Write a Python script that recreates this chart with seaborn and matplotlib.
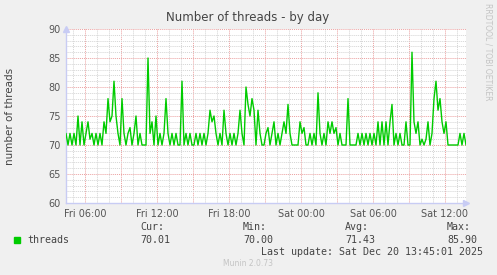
import matplotlib
matplotlib.use("Agg")
import matplotlib.pyplot as plt
import matplotlib.dates as mdates
from matplotlib.ticker import MultipleLocator, FuncFormatter
import numpy as np
import pandas as pd
import seaborn as sns

# ---- data (10-minute samples) ----
start_time = "2025-12-19 04:25"
threads = [
    72, 70, 72, 70, 72, 70, 75, 70, 74, 70, 72, 74, 71, 72, 70, 72, 70, 72, 70, 74,
    72, 78, 74, 75, 81, 75, 72, 70, 78, 72, 70, 72, 73, 70, 72, 75, 70, 72, 70, 70,
    70, 85, 72, 74, 70, 75, 70, 72, 70, 72, 78, 72, 70, 72, 70, 72, 70, 70, 81, 70,
    72, 70, 72, 70, 70, 72, 70, 72, 70, 72, 70, 72, 76, 74, 75, 72, 70, 72, 70, 76,
    72, 70, 72, 70, 72, 70, 72, 76, 72, 70, 80, 77, 75, 78, 76, 70, 76, 72, 70, 70,
    72, 73, 70, 72, 74, 70, 72, 70, 72, 74, 72, 77, 72, 70, 70, 70, 70, 74, 72, 73,
    70, 70, 72, 70, 72, 70, 79, 72, 70, 72, 70, 74, 72, 74, 72, 73, 70, 72, 70, 70,
    70, 78, 70, 70, 70, 70, 72, 70, 72, 70, 72, 70, 72, 70, 72, 70, 74, 70, 74, 70,
    74, 70, 74, 77, 70, 72, 70, 72, 70, 70, 74, 70, 70, 86, 74, 72, 74, 70, 71, 70,
    71, 74, 70, 72, 78, 81, 76, 78, 74, 72, 74, 70, 70, 70, 70, 70, 70, 72, 70, 72,
    70,
]
series_name = "threads"
stats_labels = ["Cur:", "Min:", "Avg:", "Max:"]
stats_values = ["70.01", "70.00", "71.43", "85.90"]
y_ticks = [60, 65, 70, 75, 80, 85, 90]
title = "Number of threads - by day"
ylabel = "number of threads"
last_update = "Last update: Sat Dec 20 13:45:01 2025"
footer = "Munin 2.0.73"
side_text = "RRDTOOL / TOBI OETIKER"

times = pd.date_range(start_time, periods=len(threads), freq="10min")
df = pd.DataFrame({"time": times, "threads": threads})

sns.set_style("white")
plt.rcParams["font.family"] = ["DejaVu Sans"]

W, H = 497, 275
fig = plt.figure(figsize=(W / 100, H / 100), dpi=100, facecolor="#F0F0F0")
ax = fig.add_axes([66 / W, (H - 203) / H, 400 / W, 174 / H])
ax.set_facecolor("white")

sns.lineplot(data=df, x="time", y="threads", ax=ax, color="#00CC00",
             linewidth=1.0, zorder=3, legend=False)

ax.set_xlim(times[0], times[-1])
ax.set_ylim(60, 90)

# grids
ax.yaxis.set_major_locator(MultipleLocator(5))
ax.yaxis.set_minor_locator(MultipleLocator(1))
ax.set_yticks(y_ticks)
ax.xaxis.set_major_locator(mdates.HourLocator(byhour=range(0, 24, 3)))
ax.xaxis.set_minor_locator(mdates.HourLocator())

def xfmt(v, pos):
    d = mdates.num2date(v)
    if d.hour % 6 == 0:
        return d.strftime("%a %H:%M")
    return ""

ax.xaxis.set_major_formatter(FuncFormatter(xfmt))
ax.grid(which="minor", color="#D4D4D4", linestyle=(0, (1, 1)), linewidth=0.7, zorder=1)
ax.grid(which="major", color="#EBA0A0", linestyle=(0, (1, 1)), linewidth=0.7, zorder=2)

for s in ["top", "right"]:
    ax.spines[s].set_visible(False)
for s in ["left", "bottom"]:
    ax.spines[s].set_color("#C8CCF4")
    ax.spines[s].set_linewidth(1.0)

ax.tick_params(axis="both", which="both", length=0, labelsize=7, colors="#555555")
ax.tick_params(axis="x", which="major", pad=4)
ax.tick_params(axis="y", which="major", pad=4)
ax.set_xlabel("")
ax.set_ylabel("")

# axis arrows
ax.plot([0], [1.0], marker="^", markersize=5, color="#C8CCF4",
        transform=ax.transAxes, clip_on=False, zorder=4)
ax.plot([1.0], [0], marker=">", markersize=5, color="#C8CCF4",
        transform=ax.transAxes, clip_on=False, zorder=4)

def fx(px):
    return px / W

def fy(py):
    return 1 - py / H

fig.text(fx(248), fy(18), title, ha="center", va="center", fontsize=8.5, color="#444444")
fig.text(fx(10), fy(116), ylabel, ha="center", va="center", rotation=90,
         fontsize=7.5, color="#444444")
fig.text(fx(488), fy(52), side_text, ha="center", va="center", rotation=-90,
         fontsize=5.5, color="#C4C4C4")

mono = "DejaVu Sans Mono"
lsize = 7.2
lcol = "#444444"
fig.patches.append(plt.Rectangle((fx(14), fy(243)), 6 / W, 6 / H,
                                 transform=fig.transFigure, color="#00CC00"))
fig.text(fx(27), fy(240), series_name, family=mono, fontsize=lsize, color=lcol,
         ha="left", va="center")
stat_x = [140, 243, 345, 447]
for xp, lab, val in zip(stat_x, stats_labels, stats_values):
    fig.text(fx(xp), fy(227), lab, family=mono, fontsize=lsize, color=lcol,
             ha="left", va="center")
    fig.text(fx(xp), fy(240), val, family=mono, fontsize=lsize, color=lcol,
             ha="left", va="center")
fig.text(fx(483), fy(252), last_update, family=mono, fontsize=lsize, color=lcol,
         ha="right", va="center")
fig.text(fx(248), fy(263), footer, ha="center", va="center", fontsize=5.5,
         color="#C4C4C4")

fig.savefig("out.png", dpi=100, facecolor=fig.get_facecolor())
